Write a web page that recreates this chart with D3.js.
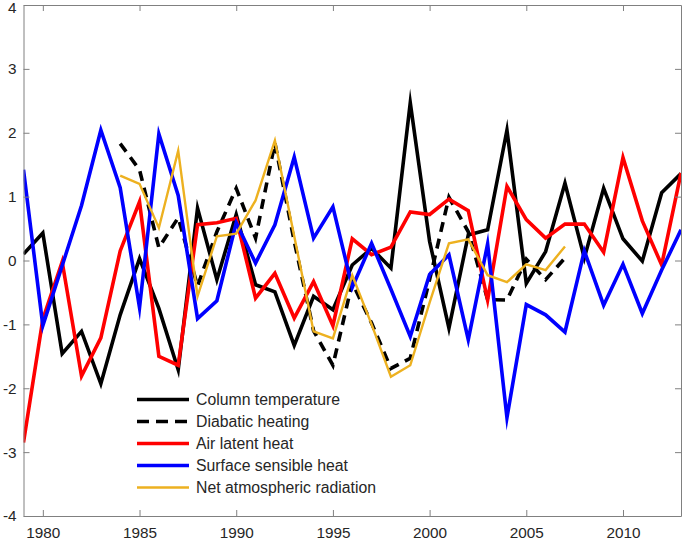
<!DOCTYPE html>
<html>
<head>
<meta charset="utf-8">
<script src="https://cdn.jsdelivr.net/npm/d3@7"></script>
<style>
  html, body { margin: 0; padding: 0; background: #fff; }
  svg { display: block; }
  text { font-family: "Liberation Sans", Arial, sans-serif; }
</style>
</head>
<body>
<svg id="chart" width="685" height="540"></svg>
<script>
const years = d3.range(1979, 2014);
const yearsShort = d3.range(1984, 2008);

const columnTemperature = [0.1, 0.43, -1.46, -1.11, -1.93, -0.85, 0.03, -0.75, -1.71, 0.82,
  -0.3, 0.72, -0.38, -0.49, -1.33, -0.56, -0.77, -0.07, 0.19, -0.12,
  2.47, 0.3, -1.06, 0.4, 0.48, 2.04, -0.36, 0.14, 1.21, 0.04,
  1.13, 0.34, -0.01, 1.06, 1.36];

const diabaticHeating = [1.83, 1.42, 0.2, 0.67, -0.4, 0.45, 1.13, 0.35, 1.84, 0.3,
  -1.1, -1.64, -0.35, -0.98, -1.69, -1.53, -0.3, 0.99, 0.45, -0.61,
  -0.62, 0.02, -0.3, 0.04];

const airLatentHeat = [-2.85, -0.92, -0.02, -1.81, -1.21, 0.15, 0.92, -1.5, -1.64, 0.56,
  0.59, 0.66, -0.59, -0.2, -0.9, -0.33, -1.02, 0.34, 0.09, 0.21,
  0.76, 0.72, 0.96, 0.78, -0.62, 1.16, 0.64, 0.35, 0.57, 0.57,
  0.13, 1.61, 0.62, -0.07, 1.37];

const surfaceSensibleHeat = [1.42, -1.02, -0.08, 0.86, 2.04, 1.14, -0.74, 1.98, 1.02, -0.91,
  -0.63, 0.59, -0.04, 0.56, 1.62, 0.35, 0.84, -0.42, 0.27, -0.45,
  -1.19, -0.22, 0.09, -1.24, 0.26, -2.46, -0.69, -0.85, -1.12, 0.15,
  -0.7, -0.06, -0.83, -0.15, 0.48];

const netAtmRadiation = [1.33, 1.2, 0.51, 1.72, -0.56, 0.38, 0.42, 0.94, 1.88, 0.38,
  -1.11, -1.22, -0.23, -1.0, -1.82, -1.64, -0.66, 0.27, 0.33, -0.23,
  -0.34, -0.06, -0.15, 0.22];

const xTicks = [1980, 1985, 1990, 1995, 2000, 2005, 2010];
const yTicks = [-4, -3, -2, -1, 0, 1, 2, 3, 4];

const series = [
  { name: "Column temperature", x: years, y: columnTemperature, color: "#000000", width: 3.6, dash: null },
  { name: "Diabatic heating", x: yearsShort, y: diabaticHeating, color: "#000000", width: 3.6, dash: "10,7" },
  { name: "Air latent heat", x: years, y: airLatentHeat, color: "#ff0000", width: 3.6, dash: null },
  { name: "Surface sensible heat", x: years, y: surfaceSensibleHeat, color: "#0000ff", width: 3.6, dash: null },
  { name: "Net atmospheric radiation", x: yearsShort, y: netAtmRadiation, color: "#edb120", width: 2.4, dash: null }
];

const svg = d3.select("#chart");
const L = 23.5, R = 681, T = 5, B = 516;

const x = d3.scaleLinear().domain([1979, 2013]).range([L, R]);
const y = d3.scaleLinear().domain([-4, 4]).range([B, T]);

const axisColor = "#808080";
const labelColor = "#262626";

svg.append("defs").append("clipPath").attr("id", "clip")
  .append("rect").attr("x", L).attr("y", T).attr("width", R - L).attr("height", B - T);

const line = d3.line().x(d => x(d[0])).y(d => y(d[1]));
const g = svg.append("g").attr("clip-path", "url(#clip)");
series.forEach(s => {
  g.append("path")
    .datum(s.x.map((xx, i) => [xx, s.y[i]]))
    .attr("d", line)
    .attr("fill", "none")
    .attr("stroke", s.color)
    .attr("stroke-width", s.width)
    .attr("stroke-linejoin", "miter")
    .attr("stroke-miterlimit", 10)
    .attr("stroke-dasharray", s.dash);
});

const tickLen = 6;
const axBottom = svg.append("g").attr("transform", `translate(0,${B})`)
  .call(d3.axisBottom(x).tickValues(xTicks).tickFormat(d3.format("d")).tickSizeInner(-tickLen).tickSizeOuter(0).tickPadding(11));
const axTop = svg.append("g").attr("transform", `translate(0,${T})`)
  .call(d3.axisTop(x).tickValues(xTicks).tickFormat("").tickSizeInner(-tickLen).tickSizeOuter(0));
const axLeft = svg.append("g").attr("transform", `translate(${L},0)`)
  .call(d3.axisLeft(y).tickValues(yTicks).tickFormat(d3.format("d")).tickSizeInner(-tickLen).tickSizeOuter(0).tickPadding(7));
const axRight = svg.append("g").attr("transform", `translate(${R},0)`)
  .call(d3.axisRight(y).tickValues(yTicks).tickFormat("").tickSizeInner(-tickLen).tickSizeOuter(0));

[axBottom, axTop, axLeft, axRight].forEach(a => {
  a.select(".domain").attr("stroke", axisColor).attr("stroke-width", 1);
  a.selectAll(".tick line").attr("stroke", axisColor);
  a.selectAll(".tick text").attr("fill", labelColor).attr("font-size", 15.3)
    .attr("font-family", "'Liberation Sans', Arial, sans-serif");
});
axLeft.selectAll(".tick text")
  .text(d => d < 0 ? "-" + Math.abs(d) : d)
  .attr("y", d => d === 4 ? 2.5 : 0);

const legend = svg.append("g");
const ly0 = 399.5, ldy = 22;
series.forEach((s, i) => {
  const yy = ly0 + i * ldy;
  legend.append("line")
    .attr("x1", 137).attr("x2", 189).attr("y1", yy).attr("y2", yy)
    .attr("stroke", s.color).attr("stroke-width", s.width)
    .attr("stroke-dasharray", s.dash ? "12,7" : null);
  legend.append("text")
    .attr("x", 196).attr("y", yy).attr("dy", "0.35em")
    .attr("font-size", 15.8).attr("fill", labelColor)
    .text(s.name);
});
</script>
</body>
</html>
